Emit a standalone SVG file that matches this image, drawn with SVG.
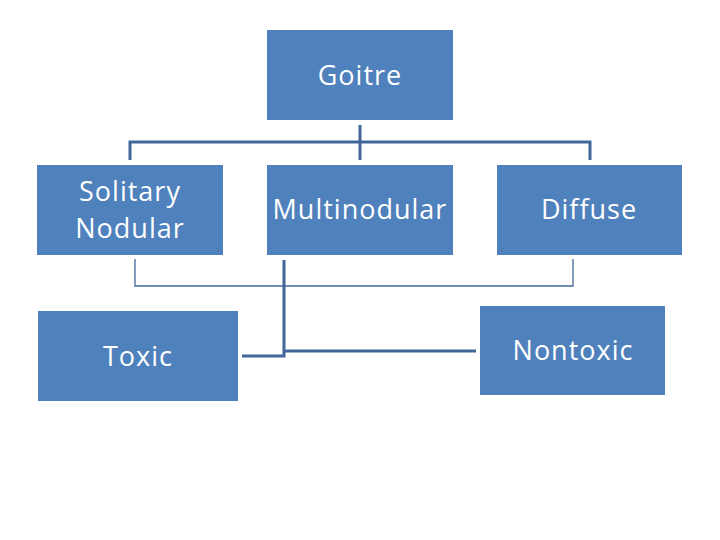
<svg xmlns="http://www.w3.org/2000/svg" width="720" height="540" viewBox="0 0 720 540">
<style>
.box{fill:#4f81bd}
.t{font-family:"Open Sans","Liberation Sans",sans-serif;font-size:27px;letter-spacing:1px;fill:#ffffff;text-anchor:middle}
.c{fill:none;stroke:#41679a;stroke-width:3}
.thin{fill:none;stroke:#41679a;stroke-width:1.3}
</style>
<rect width="720" height="540" fill="#ffffff"/>
<g id="connectors">
<path class="c" d="M360,125 V160 M130,160 V142 H590 V160"/>
<path class="thin" d="M135,259 V286 H573 V259"/>
<path class="c" d="M284,260 V356 H242 M284,351 H476"/>
</g>
<g id="goitre"><rect class="box" x="267" y="30" width="186" height="90"/><text class="t" x="360" y="85">Goitre</text></g>
<g id="solitary"><rect class="box" x="37" y="165" width="186" height="90"/><text class="t" x="130" y="201">Solitary</text><text class="t" x="130" y="238">Nodular</text></g>
<g id="multinodular"><rect class="box" x="267" y="165" width="186" height="90"/><text class="t" x="360" y="219">Multinodular</text></g>
<g id="diffuse"><rect class="box" x="497" y="165" width="185" height="90"/><text class="t" x="589" y="219">Diffuse</text></g>
<g id="toxic"><rect class="box" x="38" y="311" width="200" height="90"/><text class="t" x="138" y="366">Toxic</text></g>
<g id="nontoxic"><rect class="box" x="480" y="306" width="185" height="89"/><text class="t" x="573" y="360">Nontoxic</text></g>
</svg>
